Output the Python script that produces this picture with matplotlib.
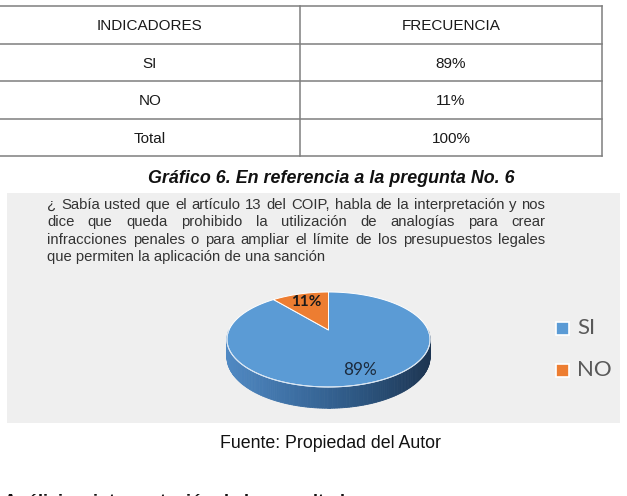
import matplotlib
matplotlib.use("Agg")
import matplotlib.pyplot as plt
import numpy as np
from matplotlib.colors import LinearSegmentedColormap
from matplotlib.patches import Polygon, Rectangle

W, H = 627, 496

# ---- data -------------------------------------------------------------
table_header = ["INDICADORES", "FRECUENCIA"]
indicadores = ["SI", "NO", "Total"]
frecuencia = ["89%", "11%", "100%"]

labels = ["SI", "NO"]
values = [89, 11]
colors = ["#5b9bd5", "#ed7d31"]

caption = "Gráfico 6. En referencia a la pregunta No. 6"
question = [
    "¿ Sabía usted que el artículo 13 del COIP, habla de la interpretación y nos",
    "dice que queda prohibido la utilización de analogías para crear",
    "infracciones penales o para ampliar el límite de los presupuestos legales",
    "que permiten la aplicación de una sanción",
]
source = "Fuente: Propiedad del Autor"
next_heading = "Análisis e interpretación de los resultados"

SANS = "Liberation Sans"
CAL = "Lato"

fig = plt.figure(figsize=(W / 100, H / 100), dpi=100)
ax = fig.add_axes([0, 0, 1, 1])
ax.set_xlim(0, W)
ax.set_ylim(H, 0)
ax.axis("off")

# ---- table ------------------------------------------------------------
row_lines = [6, 43.5, 81, 118.5, 156]
for y in row_lines:
    ax.plot([0, 602], [y, y], color="#7f7f7f", lw=1.1)
for x in (300, 602):
    ax.plot([x, x], [row_lines[0], row_lines[-1]], color="#7f7f7f", lw=1.1)

col_x = [150, 451]
rows = [table_header] + list(zip(indicadores, frecuencia))
for i, row in enumerate(rows):
    yb = (row_lines[i] + row_lines[i + 1]) / 2 + 5.5
    for x, txt in zip(col_x, row):
        ax.text(x, yb, txt, ha="center", va="baseline", fontsize=11,
                family=SANS, color="#1a1a1a")

ax.text(331, 183, caption, ha="center", va="baseline", fontsize=12.9,
        family=SANS, weight="bold", style="italic", color="#111111")

# ---- chart area -------------------------------------------------------
ax.add_patch(Rectangle((7, 193), 613, 230, facecolor="#efefef",
                       edgecolor="none", zorder=0))

# question text, justified like the original (last line left aligned)
renderer = fig.canvas.get_renderer()
X0, X1 = 47, 545
for i, line in enumerate(question):
    yb = 209 + i * 17.3
    kw = dict(va="baseline", fontsize=10.7, family=SANS, color="#333333")
    if i == len(question) - 1:
        ax.text(X0, yb, line, ha="left", **kw)
        continue
    words = line.split()
    texts = [ax.text(0, yb, w, ha="left", **kw) for w in words]
    widths = [t.get_window_extent(renderer).width for t in texts]
    gap = (X1 - X0 - sum(widths)) / (len(words) - 1)
    x = X0
    for t, w in zip(texts, widths):
        t.set_x(x)
        x += w + gap

# ---- 3D pie (simple perspective projection) ---------------------------
CX, CY, RX, RY, K, DZ = 328.5, 330, 99.5, 45.6, 0.2, 17


def proj(a_deg, r=1.0, z=0.0):
    a = np.radians(a_deg)
    s = 1 + K * r * np.sin(a)
    return CX + RX * r * np.cos(a) / s, CY - RY * r * np.sin(a) / s + z / s


# slices start at 12 o'clock and run clockwise (Excel default)
total = float(sum(values))
spans = []
start = 90.0
for v in values:
    end = start - v / total * 360.0
    spans.append((start, end))
    start = end

# side wall, only the front half is visible
side_cmap = LinearSegmentedColormap.from_list(
    "side", ["#5089c3", "#3d6fa3", "#2c5580", "#1d3552"])
xl, _ = proj(180 + np.degrees(np.arcsin(K)))
xr, _ = proj(360 - np.degrees(np.arcsin(K)))
for hi, lo in spans:
    for off in (-360, 0, 360):
        a0 = max(lo, -180 + off)
        a1 = min(hi, 0 + off)
        if a1 <= a0:
            continue
        angs = np.linspace(a0, a1, 160)
        for p, q in zip(angs[:-1], angs[1:]):
            xt0, yt0 = proj(p)
            xt1, yt1 = proj(q)
            xb0, yb0 = proj(p, z=DZ)
            xb1, yb1 = proj(q, z=DZ)
            t = np.clip(((xt0 + xt1) / 2 - xl) / (xr - xl), 0, 1)
            c = side_cmap(t)
            ax.add_patch(Polygon([(xt0, yt0), (xt1, yt1), (xb1, yb1), (xb0, yb0)],
                                 closed=True, facecolor=c, edgecolor=c,
                                 lw=0.6, zorder=2))

# top faces
for (hi, lo), col in zip(spans, colors):
    angs = np.linspace(hi, lo, 200)
    pts = [(CX, CY)] + [proj(a) for a in angs]
    ax.add_patch(Polygon(pts, closed=True, facecolor=col, edgecolor="white",
                         lw=0.7, zorder=3))

# light rim along the front edge
angs = np.linspace(180, 360, 200)
rim = np.array([proj(a) for a in angs])
ax.plot(rim[:, 0], rim[:, 1], color="#d6e4f2", lw=0.7, zorder=4)

# data labels
label_r = [0.8, 0.75]
label_style = [dict(weight="normal", color="#1c2b3d", fontsize=12.3),
               dict(weight="bold", color="#1a1a1a", fontsize=11)]
for (hi, lo), v, r, st in zip(spans, values, label_r, label_style):
    mid = (hi + lo) / 2
    x, y = proj(mid, r)
    ax.text(x, y, f"{v}%", ha="center", va="center", family=CAL, zorder=5, **st)

# legend
for i, (lab, col) in enumerate(zip(labels, colors)):
    yc = 328.5 + i * 41.5
    ax.add_patch(Rectangle((556, yc - 6.5), 13, 13, facecolor=col,
                           edgecolor="white", lw=1.2, zorder=3))
    ax.text(577, yc, lab, ha="left", va="center", fontsize=16, family=CAL,
            color="#595959")

# ---- below the chart --------------------------------------------------
ax.text(331, 448, source, ha="center", va="baseline", fontsize=12.8,
        family=SANS, color="#111111")
# next section heading, cut by the bottom edge as in the scan
ax.text(4, 507, next_heading, ha="left", va="baseline", fontsize=13,
        family=SANS, weight="bold", color="#111111")

fig.savefig("out.png", dpi=100)
